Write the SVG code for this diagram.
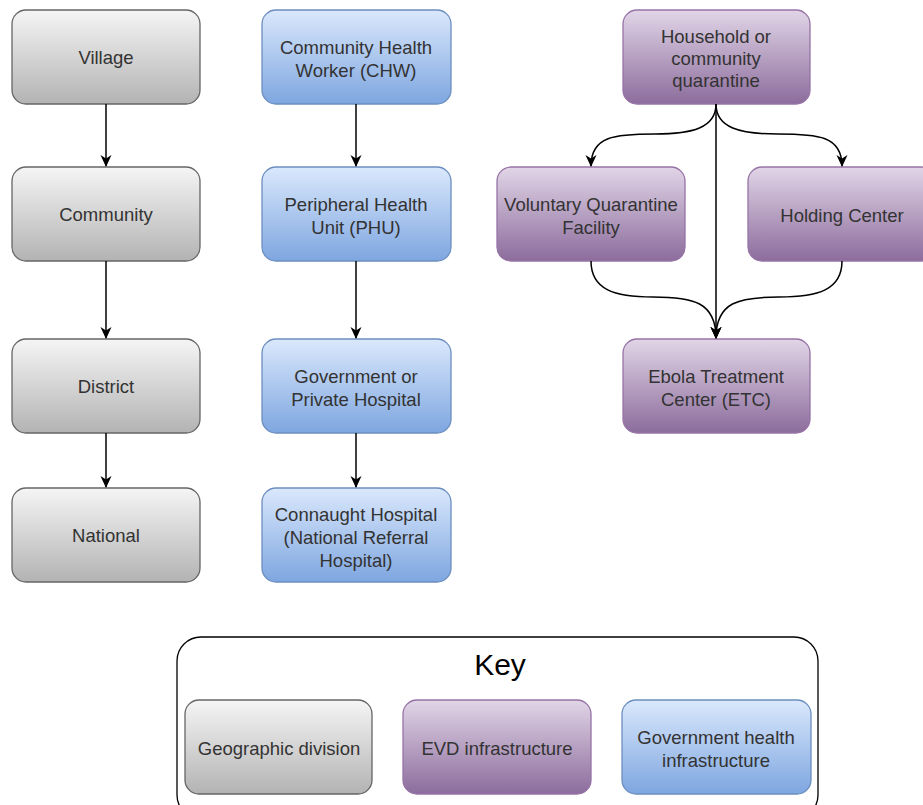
<svg xmlns="http://www.w3.org/2000/svg" width="923" height="805" viewBox="0 0 923 805">
  <defs>
    <linearGradient id="gGray" x1="0" y1="0" x2="0" y2="1">
      <stop offset="0" stop-color="#f5f5f5"/>
      <stop offset="1" stop-color="#b3b3b3"/>
    </linearGradient>
    <linearGradient id="gBlue" x1="0" y1="0" x2="0" y2="1">
      <stop offset="0" stop-color="#dae8fc"/>
      <stop offset="1" stop-color="#7ea6e0"/>
    </linearGradient>
    <linearGradient id="gPurple" x1="0" y1="0" x2="0" y2="1">
      <stop offset="0" stop-color="#e1d5e7"/>
      <stop offset="1" stop-color="#8c6c9c"/>
    </linearGradient>
    <marker id="arrow" viewBox="0 0 12 12" refX="11" refY="6" markerWidth="12" markerHeight="12" markerUnits="userSpaceOnUse" orient="auto">
      <path d="M0,0.5 L12,6 L0,11.5 L3.5,6 Z" fill="#000"/>
    </marker>
  </defs>
  <style>
    .box { stroke-width: 1.3; }
    .gray { fill: url(#gGray); stroke: #666666; }
    .blue { fill: url(#gBlue); stroke: #6c8ebf; }
    .purple { fill: url(#gPurple); stroke: #9673a6; }
    .label { font-family: "Liberation Sans", Arial, sans-serif; font-size: 18.5px; fill: #333333; text-anchor: middle; }
    .edge { fill: none; stroke: #000; stroke-width: 1.5; marker-end: url(#arrow); }
  </style>

  <rect width="923" height="805" fill="#ffffff"/>

  <!-- geographic column -->
  <g id="village">
    <rect class="box gray" x="12" y="10" width="188" height="94" rx="14"/>
    <text class="label" x="106" y="64">Village</text>
  </g>
  <g id="community">
    <rect class="box gray" x="12" y="167" width="188" height="94" rx="14"/>
    <text class="label" x="106" y="221">Community</text>
  </g>
  <g id="district">
    <rect class="box gray" x="12" y="339" width="188" height="94" rx="14"/>
    <text class="label" x="106" y="393">District</text>
  </g>
  <g id="national">
    <rect class="box gray" x="12" y="488" width="188" height="94" rx="14"/>
    <text class="label" x="106" y="542">National</text>
  </g>

  <!-- government health column -->
  <g id="chw">
    <rect class="box blue" x="262" y="10" width="189" height="94" rx="14"/>
    <text class="label" x="356" y="54">Community Health</text>
    <text class="label" x="356" y="77">Worker (CHW)</text>
  </g>
  <g id="phu">
    <rect class="box blue" x="262" y="167" width="189" height="94" rx="14"/>
    <text class="label" x="356" y="211">Peripheral Health</text>
    <text class="label" x="356" y="234">Unit (PHU)</text>
  </g>
  <g id="hospital">
    <rect class="box blue" x="262" y="339" width="189" height="94" rx="14"/>
    <text class="label" x="356" y="383">Government or</text>
    <text class="label" x="356" y="406">Private Hospital</text>
  </g>
  <g id="connaught">
    <rect class="box blue" x="262" y="488" width="189" height="94" rx="14"/>
    <text class="label" x="356" y="521">Connaught Hospital</text>
    <text class="label" x="356" y="544">(National Referral</text>
    <text class="label" x="356" y="567">Hospital)</text>
  </g>

  <!-- EVD infrastructure -->
  <g id="household">
    <rect class="box purple" x="623" y="10" width="187" height="94" rx="14"/>
    <text class="label" x="716" y="43">Household or</text>
    <text class="label" x="716" y="65">community</text>
    <text class="label" x="716" y="87">quarantine</text>
  </g>
  <g id="voluntary">
    <rect class="box purple" x="497" y="167" width="188" height="94" rx="14"/>
    <text class="label" x="591" y="211">Voluntary Quarantine</text>
    <text class="label" x="591" y="234">Facility</text>
  </g>
  <g id="holding">
    <rect class="box purple" x="748" y="167" width="188" height="94" rx="14"/>
    <text class="label" x="842" y="222">Holding Center</text>
  </g>
  <g id="etc">
    <rect class="box purple" x="623" y="339" width="187" height="94" rx="14"/>
    <text class="label" x="716" y="383">Ebola Treatment</text>
    <text class="label" x="716" y="406">Center (ETC)</text>
  </g>

  <!-- connectors -->
  <g id="connectors">
    <path class="edge" d="M106,104 L106,166"/>
    <path class="edge" d="M106,261 L106,338"/>
    <path class="edge" d="M106,433 L106,487"/>
    <path class="edge" d="M356,104 L356,166"/>
    <path class="edge" d="M356,261 L356,338"/>
    <path class="edge" d="M356,433 L356,487"/>
    <path class="edge" d="M716,104 C716,128 692,134 655,134 C615,134 591,136 591,166"/>
    <path class="edge" d="M716,104 C716,128 740,134 778,134 C818,134 842,136 842,166"/>
    <path class="edge" d="M716,104 L716,338"/>
    <path class="edge" d="M591,261 C591,290 615,297 653,297 C693,297 716,302 716,338"/>
    <path class="edge" d="M842,261 C842,290 818,297 779,297 C739,297 716,302 716,338"/>
  </g>

  <!-- legend -->
  <g id="key">
    <rect x="177" y="637" width="641" height="182" rx="24" fill="none" stroke="#000" stroke-width="1.3"/>
    <text x="500" y="675" font-family="'Liberation Sans', Arial, sans-serif" font-size="30" fill="#000" text-anchor="middle">Key</text>
  </g>
  <g id="key-geographic">
    <rect class="box gray" x="185" y="700" width="187" height="94" rx="14"/>
    <text class="label" x="279" y="755">Geographic division</text>
  </g>
  <g id="key-evd">
    <rect class="box purple" x="403" y="700" width="188" height="94" rx="14"/>
    <text class="label" x="497" y="755">EVD infrastructure</text>
  </g>
  <g id="key-government">
    <rect class="box blue" x="622" y="700" width="189" height="94" rx="14"/>
    <text class="label" x="716" y="744">Government health</text>
    <text class="label" x="716" y="767">infrastructure</text>
  </g>
</svg>
